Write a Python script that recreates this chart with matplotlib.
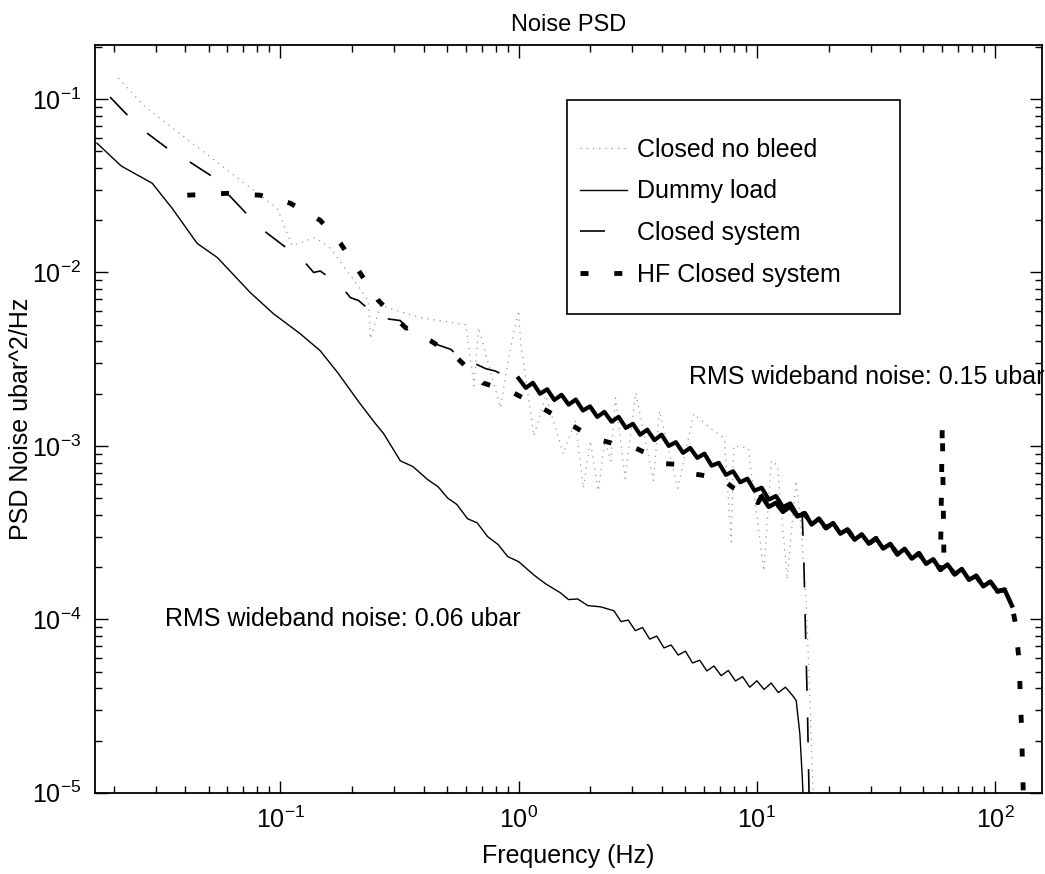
import numpy as np
import matplotlib.pyplot as plt
from matplotlib.patches import Rectangle
from matplotlib.ticker import LogLocator, NullFormatter

# Closed no bleed (thin grey dotted, spiky)
nobleed_f = [0.0209, 0.0271, 0.0971, 0.112, 0.140, 0.162, 0.200, 0.234, 0.239, 0.263,
             0.387, 0.60, 0.65, 0.679, 0.84, 0.91, 1.0, 1.02, 1.16, 1.30, 1.54, 1.73, 1.87,
             2.0, 2.16, 2.3, 2.44, 2.55, 2.80, 3.10, 3.68, 3.9, 4.66, 5.43, 6.6, 7.3,
             7.8, 8.0, 9.2, 10.7, 11.5, 12.2, 13.4, 14.6, 15.3, 16.1, 16.7, 17.2, 17.6]
nobleed_p = [0.132, 0.090, 0.0234, 0.0143, 0.0159, 0.0138, 0.00935, 0.00689, 0.00415, 0.00644,
             0.00549, 0.0050, 0.00222, 0.00481, 0.00166, 0.00331, 0.00603, 0.00394, 0.00114,
             0.00195, 9.0e-4, 0.0014, 5.7e-4, 0.00107, 5.5e-4, 0.00107, 8.2e-4, 0.00189,
             6.5e-4, 0.00202, 6.3e-4, 0.00159, 5.7e-4, 0.00153, 0.00122, 0.00111, 2.8e-4,
             1.0e-3, 9.7e-4, 1.9e-4, 8.2e-4, 7.7e-4, 1.7e-4, 6.3e-4, 3.5e-4, 1.27e-4, 3.4e-5,
             1.0e-5, 5.0e-6]

# Dummy load (thin solid)
dummy_f = [0.0170, 0.0215, 0.0290, 0.0352, 0.0448, 0.0544, 0.0748, 0.0935, 0.121, 0.147,
           0.175, 0.213, 0.250, 0.271, 0.319, 0.36, 0.415, 0.46, 0.504, 0.55, 0.611, 0.67,
           0.741, 0.82, 0.900, 1.0, 1.16, 1.30, 1.50, 1.62, 1.77, 1.95, 2.21, 2.512,
           2.692, 2.884, 3.090, 3.311, 3.548, 3.802, 4.074, 4.365, 4.677, 5.012, 5.370,
           5.754, 6.166, 6.607, 7.079, 7.586, 8.128, 8.710, 9.333, 10.0, 10.72, 11.48,
           12.30, 13.18, 14.13, 14.62, 15.14, 15.49, 15.85]
dummy_p = [0.0557, 0.0411, 0.0327, 0.0234, 0.0147, 0.0122, 0.00766, 0.00579, 0.00444, 0.00354,
           0.00262, 0.00180, 0.00135, 0.00118, 8.2e-4, 7.6e-4, 6.4e-4, 5.8e-4, 5.0e-4, 4.6e-4,
           3.8e-4, 3.6e-4, 3.0e-4, 2.7e-4, 2.3e-4, 2.15e-4, 1.8e-4, 1.6e-4, 1.42e-4, 1.30e-4,
           1.31e-4, 1.20e-4, 1.18e-4, 1.12e-4, 9.7e-5, 9.9e-5, 8.6e-5, 8.97e-5, 7.69e-5,
           8.0e-5, 6.84e-5, 7.11e-5, 6.22e-5, 6.55e-5, 5.60e-5, 5.81e-5, 5.04e-5, 5.38e-5,
           4.73e-5, 5.07e-5, 4.41e-5, 4.67e-5, 4.06e-5, 4.42e-5, 3.94e-5, 4.29e-5, 3.78e-5,
           4.06e-5, 3.63e-5, 3.4e-5, 2.2e-5, 1.26e-5, 6.3e-6]

# Closed system (long dashes)
closed_f = [0.0193, 0.0228, 0.0276, 0.0335, 0.0419, 0.0508, 0.0599, 0.0713, 0.0849, 0.103,
            0.125, 0.138, 0.147, 0.179, 0.197, 0.213, 0.258, 0.319, 0.352, 0.40, 0.427,
            0.470, 0.52, 0.582, 0.65, 0.727, 0.80, 0.925,
            1.0, 1.072, 1.148, 1.230, 1.318, 1.413, 1.514, 1.622, 1.738, 1.862, 1.995,
            2.138, 2.291, 2.455, 2.630, 2.818, 3.020, 3.236, 3.467, 3.715, 3.981, 4.266,
            4.571, 4.898, 5.248, 5.623, 6.026, 6.457, 6.918, 7.413, 7.943, 8.511, 9.120,
            9.772, 10.47, 11.22, 12.02, 12.88, 13.80, 14.79, 15.49, 15.7, 15.95, 16.3, 16.6]
closed_p = [0.1027, 0.0809, 0.0636, 0.0521, 0.0432, 0.0364, 0.0286, 0.0222, 0.0175, 0.0143,
            0.0117, 0.0100, 0.0102, 0.00841, 0.00716, 0.00689, 0.00549, 0.00528, 0.00444,
            0.0042, 0.00395, 0.00378, 0.0036, 0.00310, 0.0030, 0.00279, 0.0027, 0.00244,
            2.45e-3, 2.16e-3, 2.31e-3, 2.00e-3, 2.12e-3, 1.84e-3, 1.97e-3, 1.73e-3, 1.85e-3,
            1.60e-3, 1.69e-3, 1.47e-3, 1.57e-3, 1.38e-3, 1.47e-3, 1.27e-3, 1.34e-3, 1.16e-3,
            1.24e-3, 1.08e-3, 1.16e-3, 1.00e-3, 1.05e-3, 9.12e-4, 9.73e-4, 8.53e-4, 9.02e-4,
            7.69e-4, 7.98e-4, 6.81e-4, 7.14e-4, 6.17e-4, 6.47e-4, 5.52e-4, 5.74e-4, 4.90e-4,
            5.14e-4, 4.44e-4, 4.66e-4, 3.97e-4, 3.98e-4, 2.5e-4, 1.0e-4, 3.0e-5, 8.0e-6]

# HF Closed system (thick dotted)
hf_f = [0.0407, 0.0599, 0.0824, 0.110, 0.147, 0.179, 0.217, 0.258, 0.335, 0.427, 0.554,
        0.707, 0.953, 1.21, 1.61, 2.05, 2.51, 2.96, 3.48, 4.06, 4.93, 5.43, 7.06, 8.0, 10.1,
        10.47, 11.22, 12.02, 12.88, 13.80, 14.79, 15.85, 16.98, 18.20, 19.50, 20.89, 22.39,
        23.99, 25.70, 27.54, 29.51, 31.62, 33.88, 36.31, 38.90, 41.69, 44.67, 47.86, 51.29,
        54.95, 58.88, 60.0, 61.0, 63.10, 67.61, 72.44, 77.62, 83.18, 89.13, 95.50, 102.3,
        109.6, 117.5, 121.6, 125.9, 128.8, 131.2, 134.9]
hf_p = [0.0279, 0.0286, 0.0279, 0.0251, 0.0200, 0.0147, 0.00986, 0.00689, 0.00481, 0.00404,
        0.00320, 0.00231, 0.00202, 0.00170, 0.00136, 0.00111, 0.00103, 1.0e-3, 9.0e-4, 7.9e-4,
        7.8e-4, 6.9e-4, 6.5e-4, 5.7e-4, 4.7e-4,
        5.12e-4, 4.45e-4, 4.70e-4, 4.18e-4, 4.46e-4, 3.92e-4, 4.09e-4, 3.52e-4, 3.81e-4,
        3.36e-4, 3.59e-4, 3.12e-4, 3.30e-4, 2.88e-4, 3.09e-4, 2.73e-4, 2.93e-4, 2.56e-4,
        2.72e-4, 2.37e-4, 2.55e-4, 2.24e-4, 2.40e-4, 2.09e-4, 2.22e-4, 1.93e-4, 1.34e-3,
        2.0e-4, 2.07e-4, 1.82e-4, 1.95e-4, 1.69e-4, 1.78e-4, 1.55e-4, 1.65e-4, 1.45e-4,
        1.48e-4, 1.20e-4, 9.5e-5, 5.8e-5, 2.5e-5, 1.0e-5, 5.0e-6]

labels = ["Closed no bleed", "Dummy load", "Closed system", "HF Closed system"]

plt.rcParams["font.family"] = ["Liberation Sans", "DejaVu Sans"]
plt.rcParams["font.size"] = 18
plt.rcParams["mathtext.default"] = "regular"
plt.rcParams["axes.unicode_minus"] = False

fig = plt.figure(figsize=(10.45, 8.74), dpi=100)
ax = fig.add_axes([0.091, 0.093, 0.906, 0.8555])

nobleed_f, nobleed_p = np.array(nobleed_f), np.array(nobleed_p)
dummy_f, dummy_p = np.array(dummy_f), np.array(dummy_p)
closed_f, closed_p = np.array(closed_f), np.array(closed_p)
hf_f, hf_p = np.array(hf_f), np.array(hf_p)

ax.loglog(nobleed_f, nobleed_p, color="0.6", lw=0.9, linestyle=(0, (1, 4)),
          label=labels[0])
ax.loglog(dummy_f, dummy_p, color="black", lw=1.0, label=labels[1])
ax.loglog(closed_f, closed_p, color="black", lw=1.2, linestyle=(0, (15, 16)),
          label=labels[2])
ax.loglog(hf_f, hf_p, color="black", lw=3.5, linestyle=(0, (1.65, 5.3)), label=labels[3])

# dense noisy stretches print as a solid band
dense = (closed_f >= 1.0) & (closed_f <= 15.5)
ax.loglog(closed_f[dense], closed_p[dense], color="black", lw=3.0)
dense = (hf_f >= 10.4) & (hf_f <= 118) & (hf_p < 6e-4)
ax.loglog(hf_f[dense], hf_p[dense], color="black", lw=3.2)

ax.set_xlim(0.0167, 157)
ax.set_ylim(1e-5, 0.205)

ax.xaxis.set_minor_locator(LogLocator(base=10, subs=np.arange(2, 10), numticks=30))
ax.yaxis.set_minor_locator(LogLocator(base=10, subs=np.arange(2, 10), numticks=30))
ax.xaxis.set_minor_formatter(NullFormatter())
ax.yaxis.set_minor_formatter(NullFormatter())
ax.tick_params(which="both", direction="in", top=True, right=True, width=1.0)
ax.tick_params(which="major", length=9, pad=10)
ax.tick_params(which="minor", length=5)
for s in ax.spines.values():
    s.set_linewidth(1.3)

ax.text(5.18, 2.5e-3, "RMS wideband noise: 0.15 ubar", va="center", ha="left")
ax.text(0.0329, 1.0e-4, "RMS wideband noise: 0.06 ubar", va="center", ha="left")

ax.set_title("Noise PSD", fontsize=17, pad=10)
ax.set_xlabel("Frequency (Hz)", labelpad=8)
ax.set_ylabel("PSD Noise ubar^2/Hz")
ax.yaxis.set_label_coords(-0.066, 0.5)

# legend box drawn by hand, MATLAB style with wide padding
ax.add_patch(Rectangle((0.4984, 0.6404), 0.3516, 0.286, transform=ax.transAxes,
                       facecolor="white", edgecolor="black", lw=1.2, zorder=4))
leg = ax.legend(loc="upper left", bbox_to_anchor=(0.512, 0.876), frameon=False,
                borderaxespad=0, borderpad=0, handlelength=1.9, handletextpad=0.4,
                labelspacing=0.71)
leg.set_zorder(5)

fig.savefig("out.png", dpi=100)
